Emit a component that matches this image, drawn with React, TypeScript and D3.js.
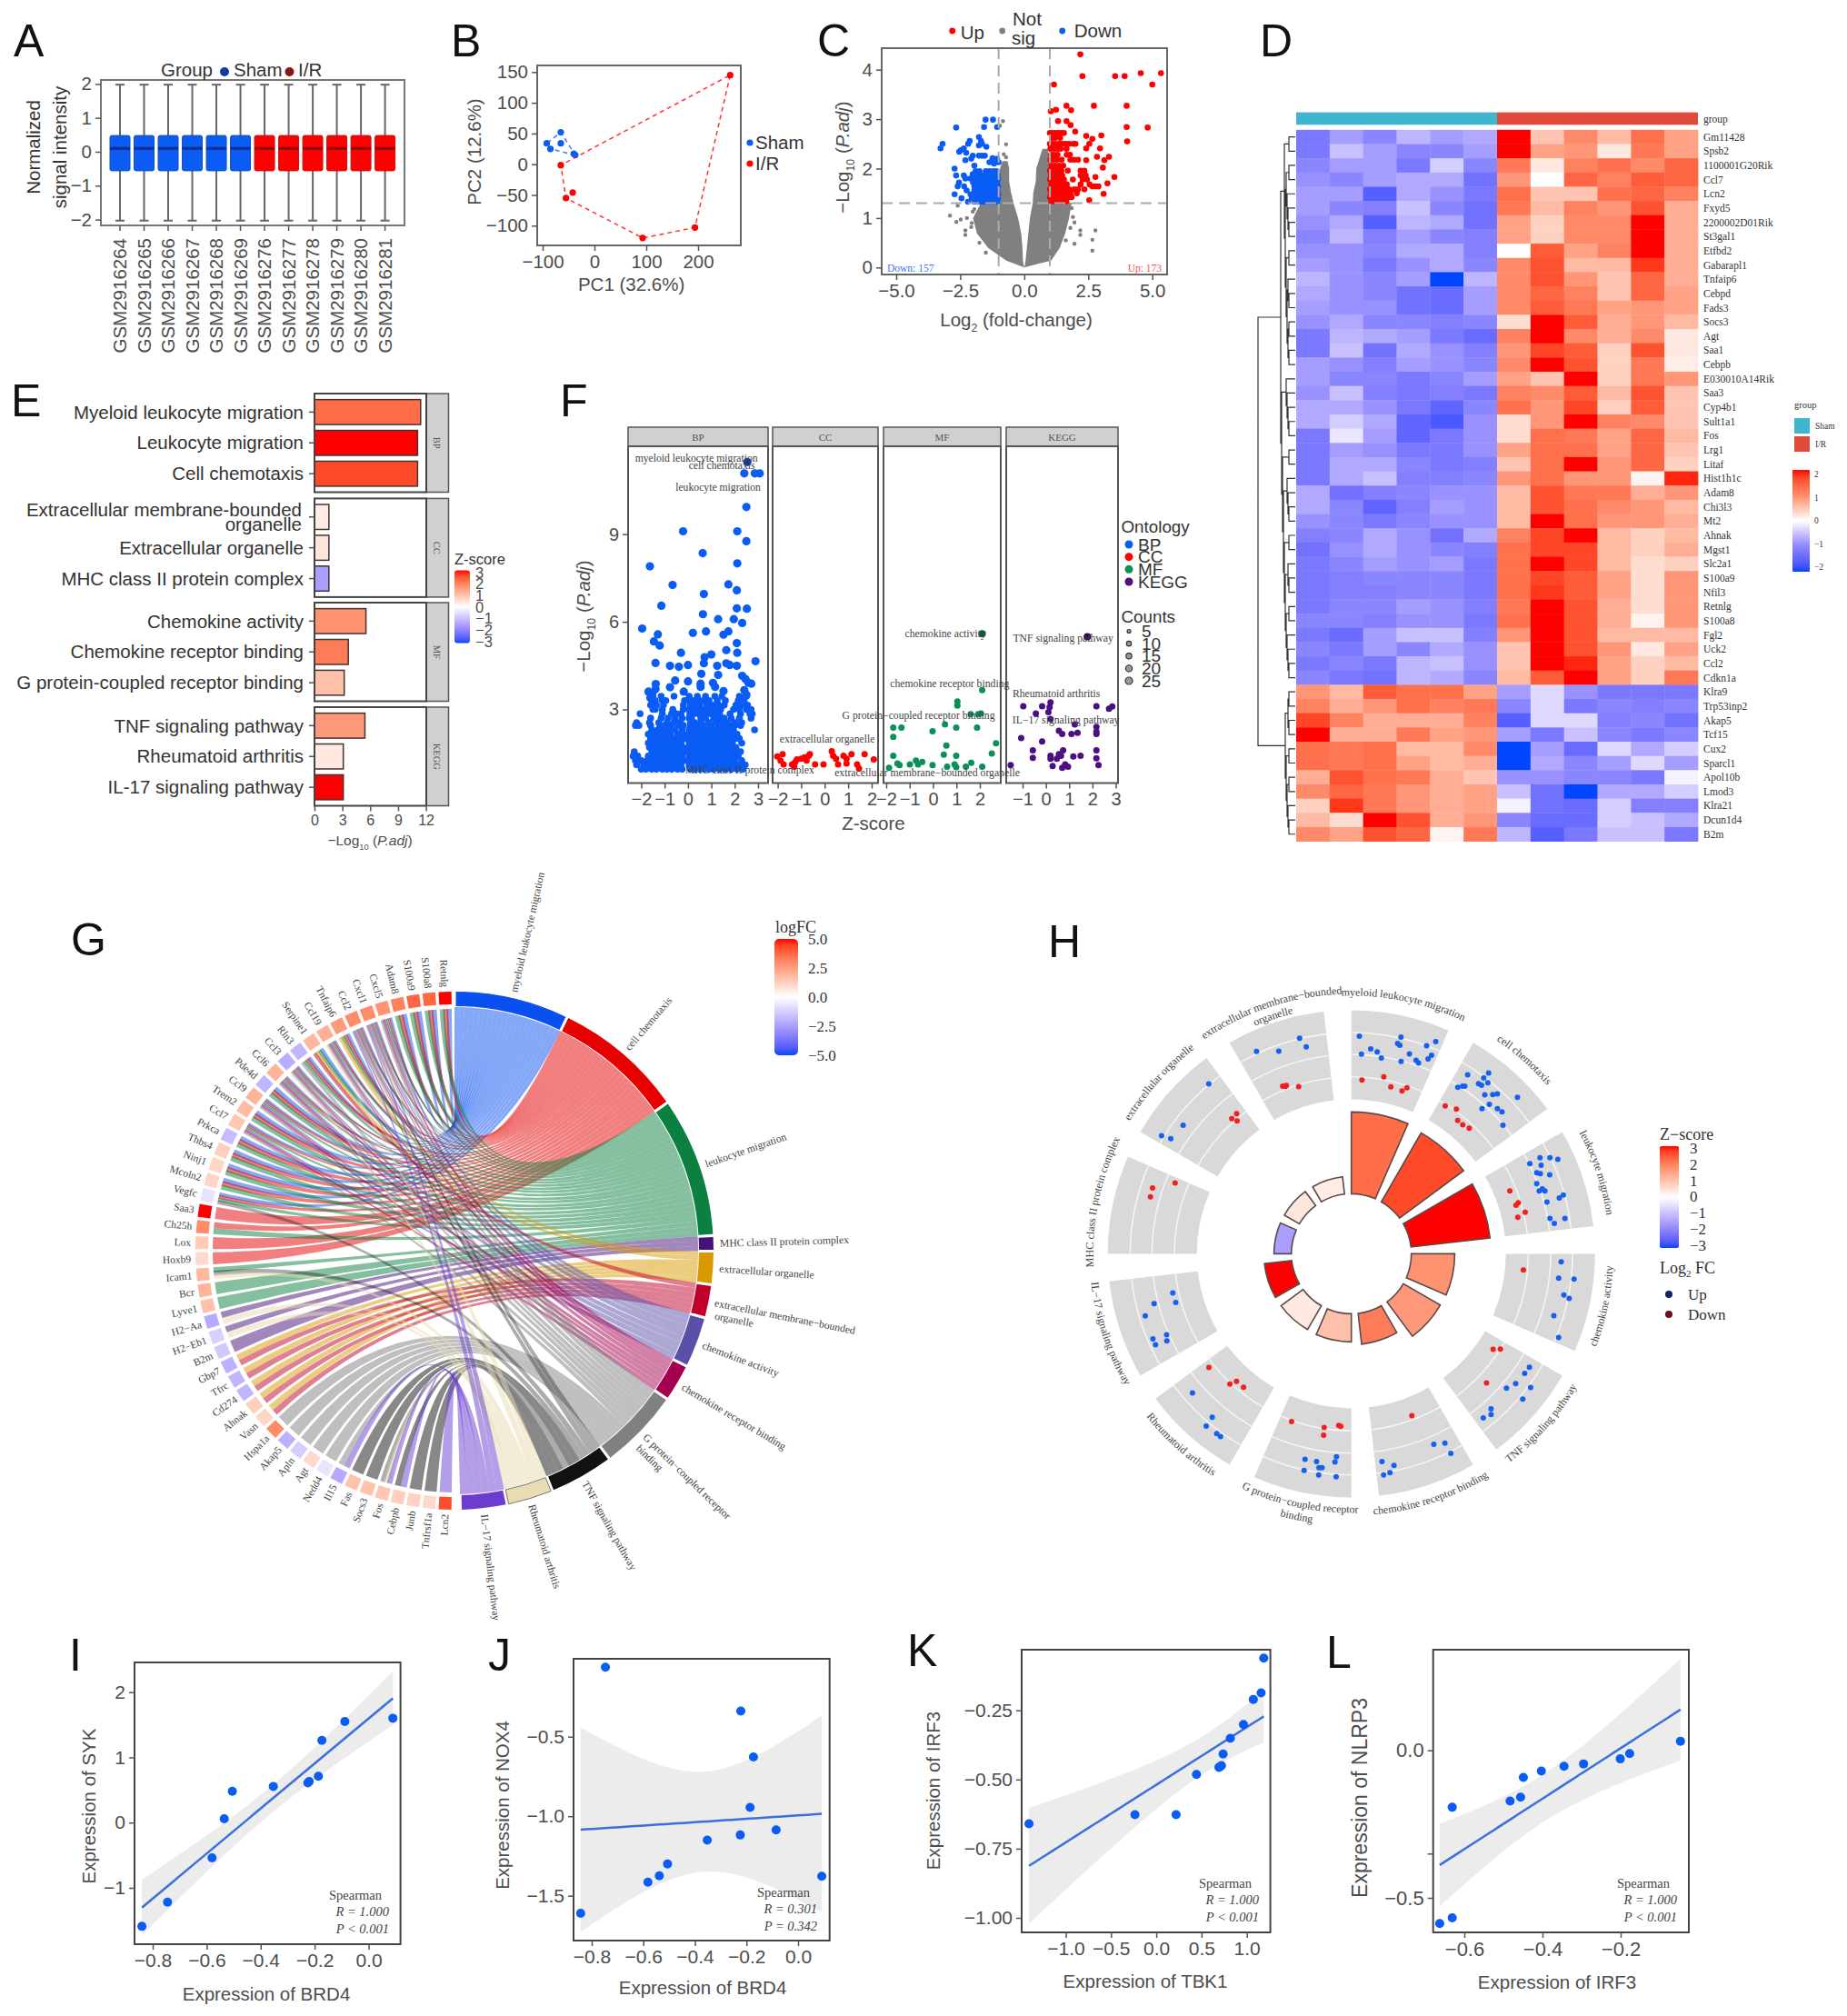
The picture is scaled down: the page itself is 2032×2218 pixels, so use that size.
// @ts-nocheck
import { useEffect, useRef } from "react"
import * as d3 from "d3"

const SANS = "Liberation Sans, Arial, sans-serif"
const SERIF = "Liberation Serif, Times New Roman, serif"
const INK = "#333333"
const TICK = "#4d4d4d"
const BLUE = "#0a5cf5"
const RED = "#ff0000"

// A: boxplots
const samples = ["GSM2916264", "GSM2916265", "GSM2916266", "GSM2916267", "GSM2916268", "GSM2916269", "GSM2916276", "GSM2916277", "GSM2916278", "GSM2916279", "GSM2916280", "GSM2916281"]
const boxLow = [-2.03, -2.03, -2.03, -2.03, -2.03, -2.03, -2.03, -2.03, -2.03, -2.03, -2.03, -2.03]
const boxQ1 = [-0.56, -0.56, -0.56, -0.56, -0.56, -0.56, -0.56, -0.56, -0.56, -0.56, -0.56, -0.56]
const boxMedian = [0.1, 0.1, 0.1, 0.1, 0.1, 0.1, 0.1, 0.1, 0.1, 0.1, 0.1, 0.1]
const boxQ3 = [0.48, 0.48, 0.48, 0.48, 0.48, 0.48, 0.48, 0.48, 0.48, 0.48, 0.48, 0.48]
const boxHigh = [1.98, 1.98, 1.98, 1.98, 1.98, 1.98, 1.98, 1.98, 1.98, 1.98, 1.98, 1.98]

// B: PCA
const pcaSham = [[-92, 34], [-65, 52], [-65, 34], [-85, 25], [-40, 17], [-37, 15]]
const pcaIR = [[262, 145], [-65, -1.5], [-42, -46], [-55, -55], [93, -120], [194, -103]]

// C: volcano
const volcanoLeft = [[0, 0, 0], [0.07, -0.35, -0.03], [0.14, -0.7, -0.05], [0.39, -1.4, -0.07], [0.69, -1.85, -0.12], [1, -2.0, -0.24], [1.3, -1.7, -0.42], [1.4, -1.2, -0.46], [1.5, -1.0, -0.51], [1.74, -1.0, -0.59], [2, -0.95, -0.59], [2.15, -0.85, -0.65]]
const volcanoRight = [[0, 0, 0], [0.07, 0.03, 0.5], [0.14, 0.05, 1.05], [0.39, 0.1, 1.38], [0.69, 0.16, 1.6], [1, 0.22, 1.75], [1.3, 0.33, 1.85], [1.4, 0.34, 1.4], [1.5, 0.35, 1.0], [1.74, 0.45, 1.0], [2, 0.47, 1.0], [2.2, 0.59, 1.0], [2.4, 0.71, 0.9]]
const volcanoGrey = [[-2.9, 1.05], [-2.65, 0.92], [-2.3, 0.75], [-2.3, 0.66], [-2.6, 1.25], [-2.48, 0.97], [-2.24, 1.0], [-2.07, 0.82], [-2.01, 1.13], [1.96, 0.48], [2.66, 0.56], [2.66, 0.34], [2.78, 0.75], [2.19, 0.75], [2.19, 0.66], [1.96, 0.91], [-0.95, 2.87], [-0.83, 2.96], [-0.71, 2.49], [-0.8, 2.29], [-0.71, 2.23], [-2.05, 0.9], [-1.95, 1.18], [1.85, 1.2], [1.9, 1.02], [1.8, 0.8], [1.62, 0.55], [-1.75, 0.5], [-1.5, 0.3]]
const volcanoBlueTop = [[-3.27, 2.41], [-3.19, 2.5], [-2.66, 2.83], [-1.51, 2.99], [-1.22, 2.99], [-1.57, 2.84], [-1.06, 2.84], [-1.77, 2.64], [-2.13, 2.56], [-1.69, 2.56], [-2.19, 2.5], [-1.65, 2.5], [-1.77, 2.47], [-1.48, 2.44], [-2.48, 2.37], [-2.36, 2.41], [-2.54, 2.34], [-2.27, 2.32], [-2.3, 2.17], [-2.01, 2.26], [-2.07, 2.2], [-1.77, 2.26], [-1.65, 2.26], [-1.54, 2.26], [-1.24, 2.21], [-1.06, 2.2], [-1, 2.13], [-1.36, 2.13], [-1.18, 2.1], [-1.95, 2.06], [-2.72, 2], [-2.66, 1.86], [-2.36, 1.86], [-2.01, 1.89]]
const volcanoBlueRows = [
  [1.95, [-1.9, -1.75, -1.5, -1.35, -1.2, -1.08]],
  [1.87, [-2.0, -1.85, -1.7, -1.55, -1.42, -1.3, -1.15, -1.04]],
  [1.8, [-2.3, -2.1, -1.9, -1.78, -1.62, -1.5, -1.38, -1.25, -1.1, -1.02]],
  [1.72, [-2.55, -2.0, -1.85, -1.7, -1.58, -1.46, -1.32, -1.2, -1.06]],
  [1.64, [-2.6, -2.35, -1.95, -1.8, -1.65, -1.52, -1.4, -1.28, -1.14, -1.02]],
  [1.56, [-2.25, -1.95, -1.82, -1.7, -1.56, -1.44, -1.3, -1.18, -1.05]],
  [1.48, [-2.72, -2.1, -1.88, -1.75, -1.6, -1.48, -1.36, -1.24, -1.1, -1.01]],
  [1.4, [-2.45, -2.05, -1.9, -1.78, -1.64, -1.52, -1.4, -1.26, -1.14, -1.03]],
  [1.33, [-2.2, -1.95, -1.82, -1.68, -1.55, -1.42, -1.3, -1.18, -1.06]],
]
const volcanoRedTop = [[2.19, 4.31], [2.27, 3.87], [1.16, 3.7], [3.55, 3.87], [3.92, 3.87], [4.55, 3.93], [5.34, 3.93], [5, 3.7], [2.72, 3.27], [1.65, 3.27], [1.83, 3.18], [4, 3.27], [1.04, 3.16], [1.24, 3.19], [1.32, 2.96], [1.65, 2.96], [1.81, 2.88], [4, 2.84], [4.82, 2.83], [4.02, 2.55], [1.99, 2.75], [2.42, 2.66], [3.01, 2.67], [2.66, 2.6], [2.54, 2.5], [2.42, 2.41], [2.96, 2.41], [2.84, 2.24], [3.31, 2.24], [3.13, 2.17], [2.42, 2.17], [3.07, 2.02], [3.52, 1.83], [2.78, 1.83], [3.25, 1.7], [2.78, 1.64], [3.1, 1.49], [2.54, 1.36], [2.9, 1.64], [2.66, 1.64]]
const volcanoRedRows = [
  [2.72, [1.0, 1.1, 1.22, 1.32, 1.45, 1.55]],
  [2.62, [1.08, 1.2, 1.4]],
  [2.5, [1.0, 1.12, 1.24, 1.38, 1.5, 1.62, 1.75, 1.92, 2.0]],
  [2.4, [1.02, 1.16, 1.3, 1.42, 1.65]],
  [2.28, [1.05, 1.15, 1.3, 1.66, 1.78]],
  [2.18, [1.02, 1.14, 1.28, 1.46, 1.8, 1.95, 2.1]],
  [2.06, [1.06, 1.2, 1.35, 1.52]],
  [1.96, [1.0, 1.15, 1.3, 1.45, 1.7, 2.2, 2.35]],
  [1.86, [1.04, 1.18, 1.32, 1.48, 2.2, 2.4]],
  [1.78, [1.0, 1.12, 1.26, 1.4, 1.55, 1.9, 2.28, 2.45]],
  [1.68, [1.06, 1.2, 1.34, 1.5, 1.66, 2.2, 2.55]],
  [1.58, [1.0, 1.14, 1.28, 1.42, 1.6, 1.75, 1.95, 2.1, 2.35]],
  [1.5, [1.04, 1.18, 1.32, 1.46, 1.6, 1.8, 2.05]],
  [1.42, [1.0, 1.12, 1.26, 1.4, 1.56, 1.72, 1.85]],
  [1.34, [1.06, 1.2, 1.34, 1.48, 1.64]],
]

// D: heatmap
const heatGenes = ["Gm11428", "Spsb2", "1100001G20Rik", "Ccl7", "Lcn2", "Fxyd5", "2200002D01Rik", "St3gal1", "Etfbd2", "Gabarapl1", "Tnfaip6", "Cebpd", "Fads3", "Socs3", "Agt", "Saa1", "Cebpb", "E030010A14Rik", "Saa3", "Cyp4b1", "Sult1a1", "Fos", "Lrg1", "Litaf", "Hist1h1c", "Adam8", "Chi3l3", "Mt2", "Ahnak", "Mgst1", "Slc2a1", "S100a9", "Nfil3", "Retnlg", "S100a8", "Fgl2", "Uck2", "Ccl2", "Cdkn1a", "Klra9", "Trp53inp2", "Akap5", "Tcf15", "Cux2", "Sparcl1", "Apol10b", "Lmod3", "Klra21", "Dcun1d4", "B2m"]
const heatValues = [
  [-1.2, -0.8, -1.0, -0.6, -0.8, -0.7, 2.0, 0.5, 1.0, 0.6, 1.3, 0.8],
  [-1.2, -0.5, -0.8, -1.0, -1.0, -0.8, 2.0, 0.8, 0.9, 0.2, 1.2, 0.8],
  [-1.0, -0.8, -0.8, -1.2, -0.4, -1.0, 1.2, 0.2, 1.1, 1.3, 1.0, 1.4],
  [-0.9, -1.0, -0.8, -0.7, -0.7, -1.3, 0.9, 0.0, 1.4, 1.1, 1.5, 1.4],
  [-0.8, -0.8, -1.6, -0.7, -0.9, -1.2, 1.3, 0.5, 0.5, 1.3, 1.4, 1.1],
  [-0.8, -1.0, -1.1, -0.5, -1.0, -1.3, 1.2, 0.6, 1.1, 0.9, 1.6, 0.7],
  [-0.9, -0.7, -1.6, -0.6, -0.7, -1.3, 0.8, 0.4, 1.0, 1.0, 2.0, 0.7],
  [-1.0, -0.6, -1.1, -0.8, -1.0, -1.1, 0.8, 0.4, 1.0, 1.0, 2.0, 0.7],
  [-0.9, -0.9, -1.0, -0.7, -0.7, -1.1, 0.0, 1.5, 0.8, 1.1, 2.0, 0.7],
  [-0.8, -0.9, -1.2, -0.9, -0.7, -1.0, 1.0, 1.6, 0.6, 0.6, 1.8, 0.7],
  [-0.6, -0.9, -1.0, -0.8, -2.0, -0.6, 1.0, 1.6, 0.9, 0.5, 1.4, 0.7],
  [-0.7, -0.9, -1.0, -1.3, -1.4, -0.8, 1.0, 1.4, 1.1, 0.5, 1.4, 0.8],
  [-0.8, -0.9, -0.9, -1.3, -1.4, -0.8, 1.0, 1.5, 1.2, 0.8, 0.9, 0.8],
  [-0.9, -0.7, -1.0, -1.0, -1.1, -1.0, 0.3, 2.0, 1.5, 0.7, 0.9, 0.6],
  [-1.2, -0.6, -0.7, -0.8, -1.2, -1.4, 1.1, 2.0, 1.0, 0.7, 1.0, 0.2],
  [-1.2, -0.5, -1.3, -0.7, -0.9, -1.1, 0.9, 1.7, 1.5, 0.4, 1.6, 0.2],
  [-0.8, -0.9, -1.1, -0.8, -0.9, -1.0, 1.0, 2.0, 1.6, 0.4, 1.2, 0.15],
  [-0.8, -1.0, -1.0, -1.2, -1.0, -0.8, 0.8, 0.5, 2.0, 0.4, 1.2, 0.9],
  [-0.9, -0.5, -1.1, -1.2, -1.1, -1.2, 1.1, 1.0, 1.5, 0.6, 1.6, 0.5],
  [-0.7, -0.7, -0.9, -1.2, -1.5, -1.0, 1.3, 0.9, 1.7, 0.4, 1.5, 0.5],
  [-0.7, -0.4, -0.7, -1.5, -1.7, -0.9, 0.3, 0.9, 2.0, 1.1, 1.0, 0.5],
  [-1.2, -0.2, -0.8, -1.5, -1.2, -0.9, 0.3, 1.3, 1.2, 0.8, 1.4, 0.6],
  [-1.2, -0.8, -0.9, -1.2, -1.2, -0.9, 0.8, 1.3, 1.3, 0.8, 1.4, 0.5],
  [-1.2, -0.7, -0.7, -1.0, -1.2, -1.1, 0.5, 1.3, 2.0, 0.9, 1.4, 0.4],
  [-1.2, -0.7, -0.5, -1.1, -1.1, -1.0, 0.9, 1.3, 0.9, 0.9, 0.1, 1.9],
  [-0.7, -1.3, -1.1, -1.0, -0.9, -0.9, 0.6, 1.6, 1.2, 1.2, 0.7, 0.9],
  [-0.7, -1.0, -1.5, -1.1, -0.8, -0.9, 0.6, 1.6, 1.3, 1.0, 0.9, 0.6],
  [-0.9, -1.0, -1.2, -1.0, -0.9, -0.9, 0.6, 2.0, 1.3, 0.9, 0.9, 0.7],
  [-1.1, -1.0, -0.7, -0.9, -1.3, -0.7, 1.1, 1.7, 2.0, 0.6, 0.4, 0.6],
  [-1.3, -0.9, -0.7, -0.9, -1.0, -1.1, 1.3, 1.7, 1.7, 0.6, 0.4, 0.7],
  [-1.2, -1.0, -0.8, -0.9, -0.8, -1.2, 1.3, 2.0, 1.7, 0.6, 0.3, 0.4],
  [-1.2, -1.1, -1.0, -1.0, -1.0, -1.2, 1.3, 1.7, 1.5, 0.8, 0.3, 0.9],
  [-1.2, -1.1, -1.1, -1.0, -1.0, -1.2, 1.3, 1.8, 1.5, 0.8, 0.3, 0.9],
  [-1.2, -1.0, -1.0, -0.8, -0.9, -1.1, 1.2, 2.0, 1.6, 0.7, 0.3, 0.9],
  [-1.0, -1.0, -1.1, -0.9, -0.9, -1.2, 1.3, 2.0, 1.6, 0.7, 0.1, 0.9],
  [-1.2, -1.4, -0.8, -0.5, -0.5, -1.1, 0.9, 2.0, 1.6, 0.6, 0.6, 0.6],
  [-1.0, -1.2, -0.8, -1.0, -0.7, -0.9, 0.5, 2.0, 1.6, 0.9, 0.2, 0.8],
  [-1.2, -1.0, -1.2, -0.6, -0.5, -0.9, 0.5, 2.0, 1.9, 0.8, 0.4, 0.6],
  [-1.0, -1.2, -1.3, -0.6, -0.7, -1.0, 0.6, 1.5, 2.0, 0.8, 0.4, 1.2],
  [0.9, 0.6, 1.5, 1.3, 1.3, 0.8, -0.8, -0.3, -0.9, -1.2, -1.2, -1.2],
  [1.1, 0.7, 0.9, 1.3, 1.1, 1.2, -1.0, -0.3, -1.2, -1.0, -1.1, -1.0],
  [1.7, 1.1, 0.7, 0.7, 0.7, 1.1, -1.6, -0.3, -0.3, -1.1, -1.0, -1.3],
  [2.0, 0.7, 0.7, 1.2, 0.8, 0.9, -0.8, -1.2, -0.5, -1.0, -1.2, -1.0],
  [1.3, 1.2, 1.3, 0.6, 0.6, 1.0, -2.0, -0.8, -1.4, -0.3, -0.7, -0.4],
  [1.3, 1.2, 1.3, 0.8, 0.6, 0.7, -2.0, -0.7, -1.0, -0.8, -0.3, -0.8],
  [0.7, 1.6, 1.3, 1.2, 0.7, 0.5, -0.9, -0.9, -1.0, -1.0, -1.2, -0.1],
  [1.0, 1.4, 1.2, 0.9, 0.7, 0.8, -0.5, -1.3, -2.0, -0.7, -0.7, -0.4],
  [0.4, 1.8, 1.2, 0.9, 0.7, 0.8, -0.1, -1.3, -1.4, -0.4, -1.1, -1.1],
  [0.6, 0.3, 2.0, 1.6, 0.7, 0.9, -1.0, -1.4, -1.4, -0.4, -0.5, -0.7],
  [1.0, 0.8, 1.6, 1.4, 0.1, 1.2, -0.6, -1.6, -1.2, -0.5, -0.5, -1.2],
]
const dendroUp = [[[0, 1], [[[2, 3], [4, [5, [6, 7]]]], [[8, 9], [[10, [11, 12]], [[13, 14], [15, 16]]]]]], [[17, [18, [19, [20, 21]]]], [[22, 23], [[24, [25, [26, 27]]], [[28, 29], [[30, [31, 32]], [[33, 34], [35, [36, [37, 38]]]]]]]]]]
const dendroDown = [[[39, 40], [41, 42]], [[43, 44], [[45, 46], [47, [48, 49]]]]]

// Terms shared by E, G and H
const termNames = ["myeloid leukocyte migration", "cell chemotaxis", "leukocyte migration", "MHC class II protein complex", "extracellular organelle", "extracellular membrane−bounded organelle", "chemokine activity", "chemokine receptor binding", "G protein−coupled receptor binding", "TNF signaling pathway", "Rheumatoid arthritis", "IL−17 signaling pathway"]
const termPadj = [11.43, 11.1, 11.1, 1.55, 1.55, 1.55, 5.54, 3.64, 3.2, 5.43, 3.1, 3.1]
const termZ = [2.2, 2.6, 3.0, -1.5, 0.4, 0.3, 1.7, 2.0, 1.0, 1.6, 0.35, 3.0]
const termColors = ["#0a50f0", "#e60000", "#0b8040", "#48107a", "#d99a00", "#c0002a", "#5a50a8", "#a5004f", "#808080", "#111111", "#e8dcb0", "#6a3dd0"]
const termWeights = [25.3, 29, 31, 3, 7, 7, 11, 8, 18, 14, 10, 10]

// E: bars
const barFacets = [
  { name: "BP", rows: [[0, ["Myeloid leukocyte migration"]], [2, ["Leukocyte migration"]], [1, ["Cell chemotaxis"]]] },
  { name: "CC", rows: [[5, ["Extracellular membrane-bounded", "organelle"]], [4, ["Extracellular organelle"]], [3, ["MHC class II protein complex"]]] },
  { name: "MF", rows: [[6, ["Chemokine activity"]], [7, ["Chemokine receptor binding"]], [8, ["G protein-coupled receptor binding"]]] },
  { name: "KEGG", rows: [[9, ["TNF signaling pathway"]], [10, ["Rheumatoid arthritis"]], [11, ["IL-17 signaling pathway"]]] },
]

// F: bubble facets
const bubbleBpTop = [[2.54, 11.47], [2.41, 11.08], [2.86, 11.08], [3.07, 11.08], [2.5, 9.93], [2.11, 9.1], [-0.21, 9.1], [2.5, 8.76], [0.63, 8.35], [2.11, 8.0], [-1.63, 7.9], [-0.66, 7.26], [1.73, 7.28], [2.09, 7.08], [0.68, 6.95], [-1.14, 6.55], [2.09, 6.46], [2.52, 6.45], [0.64, 6.26], [1.29, 6.09], [1.96, 6.09], [2.32, 5.96], [-1.96, 5.77], [-1.29, 5.57], [0.21, 5.62], [0.77, 5.67], [1.73, 5.67], [1.52, 5.56], [-1.46, 5.33], [-1.21, 5.19], [2.09, 5.27], [-0.3, 4.94], [1.64, 5.03], [2.11, 4.94], [0.71, 4.79], [1, 4.88], [-1.39, 4.59], [2.89, 4.65], [0.68, 4.58], [-0.77, 4.49], [-0.39, 4.46], [0, 4.52], [1.25, 4.49], [1.64, 4.58], [1.79, 4.52], [2.09, 4.49], [0.57, 4.22], [1.29, 4.18], [2.32, 4.15], [-0.55, 3.99], [0, 3.96], [2.46, 4.04], [2.59, 3.91], [-1.38, 3.87], [0.54, 3.88], [1.07, 3.91], [2.71, 3.88], [-0.77, 3.76], [-1.39, 3.7], [0.54, 3.77], [1.16, 3.77], [2.41, 3.66], [-1.69, 3.61], [-1.52, 3.56], [-0.18, 3.61], [1.52, 3.63], [2.5, 3.5], [-1.61, 3.4]]
const bubbleBpRows = [
  [3.45, [-1.6, -1.5, -1.15, -0.6, 0.05, 0.4, 0.75, 1.15, 1.45, 2.2, 2.5]],
  [3.3, [-1.55, -1.4, -1.1, -0.95, -0.15, 0.05, 0.25, 0.45, 0.65, 0.9, 1.25, 1.6, 2.15, 2.4]],
  [3.15, [-1.6, -1.35, -1.05, -0.2, 0.1, 0.3, 0.5, 0.8, 1.05, 1.3, 1.55, 2.05, 2.3, 2.55]],
  [3.0, [-1.5, -1.4, -1.1, -0.65, -0.2, 0.05, 0.2, 0.4, 0.6, 0.85, 1.0, 1.2, 1.4, 1.95, 2.2, 2.5, 2.7]],
  [2.85, [-2.05, -1.1, -0.7, -0.5, -0.3, 0.08, 0.25, 0.45, 0.7, 0.95, 1.15, 1.35, 1.8, 2.25, 2.65, 2.75]],
  [2.7, [-1.6, -1.15, -0.85, -0.55, -0.25, 0.05, 0.15, 0.55, 0.75, 1.1, 1.3, 1.55, 1.85, 2.2, 2.7]],
  [2.55, [-2.2, -1.65, -1.25, -0.9, -0.6, -0.35, 0.1, 0.3, 0.55, 0.9, 1.2, 1.45, 1.7, 2.0, 2.3]],
  [2.45, [-2.25, -2.1, -1.6, -1.2, -1.0, -0.75, -0.45, -0.2, 0.1, 0.3, 0.45, 0.7, 1.0, 1.3, 1.55, 1.75, 2.0, 2.25]],
  [2.3, [-1.55, -1.3, -1.05, -0.8, -0.55, -0.25, 0.05, 0.3, 0.5, 0.65, 0.85, 1.1, 1.35, 1.5, 1.7, 1.95, 2.85]],
  [2.15, [-1.7, -1.45, -1.2, -0.95, -0.75, -0.45, -0.2, 0.05, 0.25, 0.4, 0.6, 0.8, 1.05, 1.25, 1.45, 1.65, 1.85, 2.1]],
  [2.0, [-1.6, -1.35, -1.1, -0.85, -0.6, -0.35, -0.15, 0.1, 0.3, 0.5, 0.7, 0.9, 1.15, 1.35, 1.55, 1.75, 2.0, 2.2]],
  [1.85, [-1.7, -1.45, -1.25, -1.0, -0.8, -0.55, -0.3, 0.05, 0.25, 0.45, 0.65, 0.85, 1.05, 1.25, 1.45, 1.7, 1.9, 2.3]],
  [1.7, [-1.65, -1.4, -1.15, -0.9, -0.7, -0.45, -0.2, 0.05, 0.2, 0.4, 0.6, 0.8, 1.0, 1.2, 1.4, 1.6, 1.85, 2.05]],
  [1.55, [-2.3, -1.55, -1.3, -1.05, -0.85, -0.6, -0.35, -0.15, 0.1, 0.3, 0.5, 0.7, 0.9, 1.1, 1.3, 1.5, 1.75, 2.0, 2.25]],
  [1.4, [-2.35, -2.15, -1.7, -1.45, -1.2, -1, -0.75, -0.5, -0.25, 0.05, 0.25, 0.45, 0.65, 0.85, 1.05, 1.25, 1.45, 1.7, 1.9, 2.15]],
  [1.25, [-2.25, -2.0, -1.75, -1.5, -1.3, -1.05, -0.85, -0.6, -0.35, -0.15, 0.1, 0.3, 0.5, 0.7, 0.9, 1.1, 1.3, 1.55, 1.8, 2.0, 2.3]],
  [1.1, [-2.2, -1.9, -1.65, -1.4, -1.2, -1, -0.75, -0.5, -0.3, 0.05, 0.25, 0.45, 0.65, 0.85, 1.05, 1.25, 1.5, 1.75, 1.95, 2.2, 2.45]],
  [0.95, [-2, -1.8, -1.55, -1.35, -1.1, -0.9, -0.7, -0.45, -0.25, 0.1, 0.3, 0.5, 0.7, 0.9, 1.1, 1.35, 1.6, 1.85, 2.1, 2.35]],
]
const bubbleCC = [[-2.02, 1.39], [-1.79, 1.47], [-1.88, 1.25], [-1.75, 1.12], [-1.39, 1.12], [-1.25, 1.2], [-1.18, 1.29], [-1, 1.31], [-0.86, 1.36], [-0.68, 1.41], [-0.63, 1.47], [-0.77, 1.25], [-0.41, 1.12], [-0.05, 1.12], [0.3, 1.57], [0.36, 1.41], [0.48, 1.31], [0.57, 1.12], [0.8, 1.41], [0.93, 1.31], [1.14, 1.47], [0.93, 1.15], [1.38, 1.12], [1.46, 0.98], [1.7, 1.47], [2.09, 1.29], [-1.3, 1.04]]
const bubbleMF = [[2.1, 5.59], [2.1, 3.66], [1.04, 3.27], [1.04, 3.13], [1.61, 2.84], [1.93, 2.84], [2.05, 2.86], [0.51, 2.49], [0.99, 2.38], [1.88, 2.38], [-1.7, 2.38], [-1.35, 2.38], [-0.02, 2.25], [-1.7, 2.06], [0.57, 1.76], [2.69, 1.84], [2.51, 1.49], [0.46, 1.45], [0.99, 1.41], [-1.7, 1.41], [-1.52, 1.15], [-1.43, 1.09], [-1.88, 1], [-0.99, 1.12], [-0.73, 1.25], [-0.64, 1.12], [-0.46, 1.2], [-0.02, 1.09], [0.6, 1.04], [0.92, 1.12], [0.99, 1.02], [1.4, 1.04], [1.63, 1.17], [2.1, 1.04]]
const bubbleKEGG = [[1.78, 5.49], [-0.97, 3.11], [-0.16, 3.11], [0.2, 3.24], [0.16, 3.08], [-0.43, 2.86], [0.11, 2.91], [2.17, 3.11], [2.71, 3.02], [2.85, 3.1], [0.2, 2.67], [1.24, 2.49], [2.17, 2.4], [2.17, 2.24], [2.17, 2.16], [0.56, 2.27], [0.7, 2.16], [1.1, 2.16], [1.36, 2.2], [-1.06, 2.02], [-0.16, 1.9], [-0.56, 1.6], [-0.56, 1.34], [0.2, 1.41], [0.74, 1.6], [0.56, 1.47], [0.2, 1.31], [0.47, 1.31], [0.65, 1.41], [1.18, 1.39], [1.49, 1.41], [2.17, 1.6], [2.17, 1.33], [2.26, 1.09], [-1.51, 1.09], [0.29, 1.06], [0.7, 1], [0.95, 1.04], [0.83, 1.12]]
const bubbleColors = [BLUE, RED, "#0a9058", "#4b0f82"]
const bubbleDark = ["#0a3a9e", RED, "#0a5c3c", "#2c0a50"]
const countValues = [5, 10, 15, 20, 25]
const bubbleLabels = [
  [0, "myeloid leukocyte migration", 0.36, 11.6], [0, "cell chemotaxis", 1.45, 11.36], [0, "leukocyte migration", 1.29, 10.62], [0, "MHC class II protein complex", 2.64, 0.93],
  [1, "extracellular organelle", 0.11, 2.0], [1, "extracellular membrane−bounded organelle", 4.36, 0.85],
  [2, "chemokine activity", 0.53, 5.59], [2, "chemokine receptor binding", 0.71, 3.88], [2, "G protein−coupled receptor binding", -0.62, 2.79],
  [3, "TNF signaling pathway", 0.74, 5.45], [3, "Rheumatoid arthritis", 0.45, 3.56], [3, "IL−17 signaling pathway", 0.86, 2.65],
]

// G: chord
const geneNames = ["Retnlg", "S100a8", "S100a9", "Adam8", "Cxcl5", "Cxcl1", "Ccl2", "Tnfaip6", "Ccl19", "Serpine1", "Rln3", "Ccl3", "Ccl6", "Pde4d", "Ccl9", "Trem2", "Ccl7", "Prkca", "Thbs4", "Ninj1", "Mcoln2", "Vegfc", "Saa3", "Ch25h", "Lox", "Hoxb9", "Icam1", "Bcr", "Lyve1", "H2−Aa", "H2−Eb1", "B2m", "Gbp7", "Tfrc", "Cd274", "Ahnak", "Vasn", "Hspa1a", "Akap5", "Apln", "Agt", "Nedd4", "Il15", "Fas", "Socs3", "Fos", "Cebpb", "Junb", "Tnfrsf1a", "Lcn2"]
const geneFc = [5, 3.8, 3.8, 3.2, 2.8, 3, 3, 2.6, 2.1, 1.9, -1.9, -2.1, 2, -1.9, 2, 1.8, 1.5, -1.7, 1.3, 1.1, 1.1, -0.7, 5, 3, 1.4, 1, 1.9, 2, 1.7, -2.2, -1.2, -1.4, -2, -1.9, -1.9, 1.3, 1.1, 3, -2, -1.3, 1, -0.7, -2.2, 1.6, 1.6, 1.5, 1.3, 1.2, 1, 4.3]
const geneTerms = [[0, 1, 2], [0, 1, 2], [0, 1, 2], [0, 1, 2], [0, 1, 2, 6, 7, 8], [0, 1, 2, 6, 7, 8, 9, 11], [0, 1, 2, 6, 7, 8, 9, 11], [0, 1, 2, 4], [0, 1, 2, 6, 7, 8, 10], [0, 2, 4, 5], [0, 1, 2, 8], [0, 1, 2, 6, 7, 8, 10], [0, 1, 2, 6, 7, 8], [0, 1, 2], [0, 1, 2, 6, 7, 8], [0, 1, 2], [0, 1, 2, 6, 7, 8], [0, 1, 2], [0, 1, 2], [0, 1, 2], [0, 1, 2], [0, 1, 2, 9], [1], [1, 2], [1], [1], [2, 9, 10], [2], [2], [3, 10], [3, 10], [3], [4, 5], [4, 5], [4, 5], [4, 5], [4, 5], [8], [8], [8], [8], [8], [8, 11], [9], [9], [9, 10, 11], [9, 11], [9], [9], [11]]

// H: circular plot, sectors run clockwise from the top
const circleOrder = [0, 1, 2, 6, 9, 7, 8, 10, 11, 3, 4, 5]
const circleLines = [["myeloid leukocyte migration"], ["cell chemotaxis"], ["leukocyte migration"], ["chemokine activity"], ["TNF signaling pathway"], ["chemokine receptor binding"], ["G protein−coupled receptor", "binding"], ["Rheumatoid arthritis"], ["IL−17 signaling pathway"], ["MHC class II protein complex"], ["extracellular organelle"], ["extracellular membrane−bounded", "organelle"]]
const circleUp = [
  [[2.1, 2.5], [12.9, 2.9], [12.4, 2.3], [13.1, 2.2], [21.7, 3.4], [19.9, 2.8], [2.9, 1.0], [5.4, 1.5], [7.3, 1.3], [8.7, 0.85], [14.5, 0.9], [16.2, 1.7], [18.5, 1.35], [19.4, 1.2], [21.5, 1.8], [22, 2.2]],
  [[3, 2.15], [7.2, 3.3], [7, 2.7], [8.6, 2.6], [6.8, 2.05], [7.7, 2.1], [2.6, 0.8], [3.6, 1.1], [4.1, 1.2], [10, 1.65], [11.6, 2.1], [12.4, 2.4], [16.7, 3.4], [12, 0.6], [12.7, 1.3], [15.2, 1.5], [16.7, 1.6], [19.7, 0.9]],
  [[3.2, 1], [3, 2], [4.2, 2.75], [5.4, 3.3], [6.4, 1.2], [5, 1.8], [7, 1.45], [8.3, 2.15], [9.3, 0.85], [11.2, 1.15], [11.5, 0.85], [12, 1.3], [15, 2.3], [14.5, 2.7], [15.2, 1.2], [19.9, 1.15], [21.5, 1.45], [20.6, 2.4]],
  [[2.2, 1.85], [6.7, 1.75], [6.5, 3.05], [11, 2.4], [11.6, 2.9], [17, 2], [22, 3]],
  [[2.5, 1.95], [4.6, 1.9], [8.3, 1.8], [10.9, 1.45], [6.7, 3], [10.3, 3.1], [18, 1.75], [19, 2.1], [21.2, 1.9]],
  [[6.6, 1.65], [3.7, 1.95], [3.5, 2.95], [21.6, 1.85], [18.6, 2.35], [20, 2.9], [21.7, 3]],
  [[4.2, 1.3], [4.5, 1.75], [3.9, 3], [8.4, 3], [8.6, 2.4], [7.8, 2.35], [9.5, 1.9], [12.3, 2.85], [12.7, 1.9]],
  [[18.8, 1.95], [10.4, 2.25], [10.1, 3.15], [6.8, 3.1], [5.6, 3.1]],
  [[17.6, -0.45], [14.5, -0.5], [15.8, 1.3], [13.2, 2.3], [6.8, 2.35], [5.1, 2.35], [6.3, 1.15], [4.7, 1.35]],
  [],
  [[20, 2.85], [7.4, 2], [1.9, 3], [2.5, 2.2]],
  [[4.9, 3], [10.3, 2.3], [16.5, 2.85], [17.7, 2]],
]
const circleDown = [
  [[3.5, -1.2], [10.4, -0.7], [13.3, -1.4], [17.3, -1.5], [18.5, -1.1]],
  [[2.4, -1.1], [6, -0.8], [8.6, -1.5], [10.8, -1.5], [13.2, -1.35]],
  [[8.4, -1.5], [13, -1.15], [13.6, -1.4], [16.6, -0.8], [17.6, -1.5]],
  [[5.4, -1.3]],
  [[4, -1.45], [2.6, -0.95], [13.7, -0.1]],
  [[9.5, -1.3]],
  [[19.6, -0.85], [8.9, -1.05], [8.7, -0.4], [4.2, -1.35], [3.5, -1.3]],
  [[21.4, -0.5], [13, -0.85], [12, -1.4], [8.9, -1.4]],
  [],
  [[18.3, 1.8], [15.8, 1.75], [21.9, 0.15]],
  [[20.7, -0.6], [18.5, -0.65], [19.3, -1.1]],
  [[7.7, -0.6], [8.5, -0.7], [8.9, -0.65], [12.5, -1.1]],
]

// I-L: correlations
const scatterPanels = [
  { xName: "BRD4", yName: "SYK", points: [[-0.84, -1.59], [-0.745, -1.22], [-0.58, -0.54], [-0.535, 0.06], [-0.505, 0.48], [-0.353, 0.555], [-0.225, 0.61], [-0.22, 0.63], [-0.186, 0.71], [-0.173, 1.26], [-0.088, 1.55], [0.09, 1.6]], r: "R = 1.000", p: "P < 0.001" },
  { xName: "BRD4", yName: "NOX4", points: [[-0.843, -1.61], [-0.747, -0.063], [-0.582, -1.415], [-0.538, -1.375], [-0.506, -1.3], [-0.352, -1.15], [-0.224, -1.118], [-0.222, -0.339], [-0.186, -0.945], [-0.173, -0.627], [-0.085, -1.086], [0.092, -1.377]], r: "R = 0.301", p: "P = 0.342" },
  { xName: "TBK1", yName: "IRF3", points: [[-1.406, -0.66], [-0.236, -0.627], [0.219, -0.627], [0.444, -0.482], [0.692, -0.456], [0.703, -0.454], [0.72, -0.45], [0.738, -0.408], [0.818, -0.351], [0.963, -0.301], [1.072, -0.211], [1.158, -0.187], [1.187, -0.061]], r: "R = 1.000", p: "P < 0.001" },
  { xName: "IRF3", yName: "NLRP3", points: [[-0.663, -0.587], [-0.631, -0.568], [-0.631, -0.193], [-0.483, -0.172], [-0.456, -0.159], [-0.449, -0.092], [-0.403, -0.07], [-0.345, -0.054], [-0.295, -0.046], [-0.201, -0.029], [-0.177, -0.011], [-0.047, 0.031]], r: "R = 1.000", p: "P < 0.001" },
]

const zColor = d3.scaleLinear().domain([-3, 0, 3]).range(["#0046ff", "#ffffff", "#ff0000"]).interpolate(d3.interpolateLab)
const heatColor = d3.scaleLinear().domain([-2, -1, 0, 1, 2]).range(["#0046ff", "#8a86ff", "#ffffff", "#ff8a6a", "#ff0000"]).interpolate(d3.interpolateLab)
const fcColor = d3.scaleLinear().domain([-5, 0, 5]).range(["#0046ff", "#ffffff", "#ff0000"]).interpolate(d3.interpolateLab)
const rad = d => d * Math.PI / 180

function label(g, x, y, s, { size = 20.5, anchor = "start", fill = INK, font = SANS, rotate = 0, style = null } = {}) {
  return g.append("text")
    .attr("transform", `translate(${x},${y})` + (rotate ? ` rotate(${rotate})` : ""))
    .attr("dy", "0.35em")
    .attr("font-family", font)
    .attr("font-size", size)
    .attr("font-style", style)
    .attr("text-anchor", anchor)
    .attr("fill", fill)
    .text(s)
}

// parts: plain strings, or { low } for a subscript and { it } for italic
function richLabel(g, x, y, parts, { size = 20.5, anchor = "middle", fill = INK, rotate = 0 } = {}) {
  const t = g.append("text")
    .attr("transform", `translate(${x},${y})` + (rotate ? ` rotate(${rotate})` : ""))
    .attr("dy", "0.35em")
    .attr("font-family", SANS).attr("font-size", size).attr("text-anchor", anchor).attr("fill", fill)
  let wasLow = false
  parts.forEach(p => {
    const s = t.append("tspan")
    if (typeof p === "string") {
      s.text(p)
    } else if (p.low) {
      s.text(p.low).attr("font-size", size * 0.6).attr("dy", size * 0.3)
      wasLow = true
      return
    } else {
      s.attr("font-style", "italic").text(p.it)
    }
    if (wasLow) s.attr("dy", -size * 0.3)
    wasLow = false
  })
  return t
}
const logTitle = ["−Log", { low: "10" }, " (", { it: "P.adj" }, ")"]

function axis(g, orient, scale, pos, values, fmt, size = 20.5) {
  const ax = (orient === "left" ? d3.axisLeft(scale) : d3.axisBottom(scale)).tickValues(values).tickSize(6).tickPadding(4).tickFormat(fmt)
  const a = g.append("g").attr("transform", orient === "left" ? `translate(${pos},0)` : `translate(0,${pos})`).call(ax)
  a.select(".domain").remove()
  a.selectAll("text").attr("font-family", SANS).attr("font-size", size).attr("fill", TICK)
  a.selectAll("line").attr("stroke", "#555").attr("stroke-width", 1.5)
  return a
}

function frame(g, x0, y0, x1, y1, stroke = "#666", w = 2) {
  return g.append("rect").attr("x", x0).attr("y", y0).attr("width", x1 - x0).attr("height", y1 - y0)
    .attr("fill", "none").attr("stroke", stroke).attr("stroke-width", w)
}

function colorBar(svg, g, id, color, domain, x0, y0, w, h, r = 3) {
  const grad = svg.select("defs").append("linearGradient").attr("id", id).attr("x1", 0).attr("x2", 0).attr("y1", 0).attr("y2", 1)
  d3.range(0, 1.0001, 0.05).forEach(t => {
    grad.append("stop").attr("offset", t).attr("stop-color", color(domain[1] + (domain[0] - domain[1]) * t))
  })
  g.append("rect").attr("x", x0).attr("y", y0).attr("width", w).attr("height", h).attr("rx", r).attr("fill", `url(#${id})`)
}

function panelLetters(g) {
  const letters = [["A", 15, 62], ["B", 496, 62], ["C", 899, 62], ["D", 1386, 62], ["E", 12, 458], ["F", 616, 458], ["G", 78, 1051], ["H", 1153, 1053], ["I", 76, 1838], ["J", 537, 1838], ["K", 998, 1833], ["L", 1459, 1835]]
  letters.forEach(([s, x, y]) => {
    g.append("text").attr("x", x).attr("y", y).attr("font-family", SANS).attr("font-size", 50).attr("fill", "#111").text(s)
  })
}

function panelA(g) {
  const x = d3.scaleBand().domain(samples).range([118.75, 436.85]).paddingInner(0.17).paddingOuter(0.085)
  const y = d3.scaleLinear().domain([-2, 2]).range([241.6, 92.4])
  const bw = x.bandwidth()
  samples.forEach((s, i) => {
    const cx = x(s) + bw / 2
    const color = i < 6 ? BLUE : RED
    g.append("line").attr("x1", cx).attr("x2", cx).attr("y1", y(boxLow[i])).attr("y2", y(boxHigh[i])).attr("stroke", "#666").attr("stroke-width", 2)
    ;[boxLow[i], boxHigh[i]].forEach(v => g.append("line").attr("x1", cx - 5).attr("x2", cx + 5).attr("y1", y(v)).attr("y2", y(v)).attr("stroke", "#666").attr("stroke-width", 2))
    g.append("rect").attr("x", x(s)).attr("y", y(boxQ3[i])).attr("width", bw).attr("height", y(boxQ1[i]) - y(boxQ3[i])).attr("rx", 2).attr("fill", color).attr("stroke", i < 6 ? "#1450c0" : "#c81010")
    g.append("line").attr("x1", x(s)).attr("x2", x(s) + bw).attr("y1", y(boxMedian[i])).attr("y2", y(boxMedian[i])).attr("stroke", i < 6 ? "#0a2f8a" : "#8c0a0a").attr("stroke-width", 3)
  })
  frame(g, 111, 88, 445, 248, "#777")
  axis(g, "left", y, 111, [-2, -1, 0, 1, 2], d3.format("d"))
  const a = axis(g, "bottom", x, 248, samples, d => d)
  a.selectAll(".tick text").attr("transform", "rotate(-90)").attr("text-anchor", "end").attr("x", -14).attr("y", 0).attr("dy", "0.35em")
  label(g, 37, 162, "Normalized", { rotate: -90, anchor: "middle" })
  label(g, 66, 162, "signal intensity", { rotate: -90, anchor: "middle" })
  label(g, 177, 77, "Group")
  g.append("circle").attr("cx", 247).attr("cy", 79).attr("r", 5).attr("fill", "#0f3d9e")
  label(g, 257, 77, "Sham")
  g.append("circle").attr("cx", 318.5).attr("cy", 79).attr("r", 5).attr("fill", "#8c1414")
  label(g, 328, 77, "I/R")
}

function panelB(g) {
  const x = d3.scaleLinear().domain([-100, 200]).range([597, 768])
  const y = d3.scaleLinear().domain([-100, 150]).range([248.3, 79.3])
  const line = d3.line().x(d => x(d[0])).y(d => y(d[1])).curve(d3.curveLinearClosed)
  ;[[pcaSham, BLUE], [pcaIR, RED]].forEach(([pts, color]) => {
    g.append("path").attr("d", line(d3.polygonHull(pts))).attr("fill", "none").attr("stroke", color).attr("stroke-width", 1.5).attr("stroke-dasharray", "5 4").attr("opacity", 0.8)
    g.selectAll(null).data(pts).join("circle").attr("cx", d => x(d[0])).attr("cy", d => y(d[1])).attr("r", 3.6).attr("fill", color)
  })
  frame(g, 591, 72, 815, 270)
  axis(g, "left", y, 591, [-100, -50, 0, 50, 100, 150], d3.format("d"))
  axis(g, "bottom", x, 270, [-100, 0, 100, 200], d3.format("d"))
  label(g, 694.6, 313, "PC1 (32.6%)", { anchor: "middle", fill: TICK })
  label(g, 522, 167, "PC2 (12.6%)", { anchor: "middle", rotate: -90, fill: TICK })
  ;[["Sham", BLUE, 157], ["I/R", RED, 180]].forEach(([s, color, yy]) => {
    g.append("circle").attr("cx", 825).attr("cy", yy).attr("r", 3.6).attr("fill", color)
    label(g, 831, yy, s)
  })
}

function panelC(g) {
  const x = d3.scaleLinear().domain([-5, 5]).range([986, 1267.7])
  const y = d3.scaleLinear().domain([0, 4]).range([294.3, 76.7])
  const area = d3.area().y(d => y(d[0])).x0(d => x(d[1])).x1(d => x(d[2]))
  ;[volcanoLeft, volcanoRight].forEach(v => g.append("path").attr("d", area(v)).attr("fill", "#808080"))
  const dots = (pts, color, r) => g.selectAll(null).data(pts).join("circle").attr("cx", d => x(d[0])).attr("cy", d => y(d[1])).attr("r", r).attr("fill", color)
  const fromRows = rows => rows.flatMap(([p, fcs]) => fcs.map(f => [f, p]))
  dots(volcanoGrey, "#808080", 2.2)
  dots(volcanoBlueTop.concat(fromRows(volcanoBlueRows)), BLUE, 3.3)
  dots(volcanoRedTop.concat(fromRows(volcanoRedRows)), RED, 3.3)
  const dash = { stroke: "#aaa", w: 2, d: "12 7" }
  ;[-1, 1].forEach(v => g.append("line").attr("x1", x(v)).attr("x2", x(v)).attr("y1", 53).attr("y2", 302).attr("stroke", dash.stroke).attr("stroke-width", dash.w).attr("stroke-dasharray", dash.d))
  g.append("line").attr("x1", 970).attr("x2", 1284).attr("y1", y(1.3)).attr("y2", y(1.3)).attr("stroke", dash.stroke).attr("stroke-width", dash.w).attr("stroke-dasharray", dash.d)
  frame(g, 970, 53, 1284, 302)
  axis(g, "left", y, 970, [0, 1, 2, 3, 4], d3.format("d"))
  axis(g, "bottom", x, 302, [-5, -2.5, 0, 2.5, 5], d3.format(".1f"))
  label(g, 976, 295, "Down: 157", { size: 11.5, font: SERIF, fill: "#3a78f0" })
  label(g, 1278, 295, "Up: 173", { size: 11.5, font: SERIF, fill: "#f05050", anchor: "end" })
  richLabel(g, 1118, 351.7, ["Log", { low: "2" }, " (fold-change)"], { fill: TICK })
  richLabel(g, 926.7, 173, logTitle, { rotate: -90, fill: TICK })
  g.append("circle").attr("cx", 1047.7).attr("cy", 34).attr("r", 3.4).attr("fill", RED)
  label(g, 1056.7, 36, "Up")
  g.append("circle").attr("cx", 1102.7).attr("cy", 34).attr("r", 3.4).attr("fill", "#808080")
  label(g, 1130, 20.7, "Not", { anchor: "middle" })
  label(g, 1126, 41.7, "sig", { anchor: "middle" })
  g.append("circle").attr("cx", 1168.7).attr("cy", 34).attr("r", 3.4).attr("fill", BLUE)
  label(g, 1181.7, 34, "Down")
}

function panelD(svg, g) {
  const cols = d3.range(12)
  const x = d3.scaleBand().domain(cols).range([1426, 1868])
  const y = d3.scaleBand().domain(heatGenes).range([142.8, 925.6])
  heatGenes.forEach((name, r) => {
    cols.forEach(c => {
      g.append("rect").attr("x", x(c)).attr("y", y(name)).attr("width", x.bandwidth() + 0.4).attr("height", y.bandwidth() + 0.4).attr("fill", heatColor(heatValues[r][c]))
    })
    label(g, 1874, y(name) + y.bandwidth() / 2, name, { size: 11.5, font: SERIF })
  })
  g.append("rect").attr("x", x(0)).attr("y", 123.6).attr("width", x.bandwidth() * 6).attr("height", 13.7).attr("fill", "#3fb5cf")
  g.append("rect").attr("x", x(6)).attr("y", 123.6).attr("width", x.bandwidth() * 6).attr("height", 13.7).attr("fill", "#e04a3a")
  label(g, 1874, 130.5, "group", { size: 11.5, font: SERIF })

  const root = d3.hierarchy([dendroUp, dendroDown], d => Array.isArray(d) ? d : null)
  const top = d3.max(root.children, d => d.height)
  const hx = d3.scaleLinear().domain([1, top]).range([1418, 1409])
  const nodeX = n => n.parent === null ? 1384 : n.height === 0 ? 1425 : hx(n.height)
  root.eachAfter(n => {
    n.py = n.children ? d3.mean(n.children, c => c.py) : y(heatGenes[n.data]) + y.bandwidth() / 2
  })
  const path = d3.path()
  root.each(n => {
    if (!n.children) return
    const px = nodeX(n)
    const [a, b] = n.children
    path.moveTo(nodeX(a), a.py); path.lineTo(px, a.py); path.lineTo(px, b.py); path.lineTo(nodeX(b), b.py)
  })
  g.append("path").attr("d", path.toString()).attr("fill", "none").attr("stroke", "#333").attr("stroke-width", 1.2)

  label(g, 1974, 445.6, "group", { size: 10.5, font: SERIF })
  g.append("rect").attr("x", 1974).attr("y", 460).attr("width", 17).attr("height", 17).attr("fill", "#3fb5cf")
  g.append("rect").attr("x", 1974).attr("y", 480).attr("width", 17).attr("height", 17).attr("fill", "#e04a3a")
  label(g, 1997, 468.5, "Sham", { size: 9.5, font: SERIF })
  label(g, 1997, 488.5, "I/R", { size: 9.5, font: SERIF })
  colorBar(svg, g, "heatbar", heatColor, [-2, 2], 1972, 517, 19, 112, 1)
  const by = d3.scaleLinear().domain([-2, 2]).range([624, 522])
  ;[-2, -1, 0, 1, 2].forEach(v => label(g, 1996, by(v), d3.format("d")(v), { size: 9.5, font: SERIF }))
}

function panelE(svg, g) {
  const x = d3.scaleLinear().domain([0, 12]).range([346, 468.6])
  const facetTop = [433, 548.4, 663, 778]
  const facetH = 108.5
  barFacets.forEach((f, i) => {
    const y0 = facetTop[i]
    const y = d3.scaleBand().domain(f.rows.map(r => r[0])).range([y0, y0 + facetH]).paddingInner(0.19).paddingOuter(0.195)
    g.append("rect").attr("x", 469).attr("y", y0).attr("width", 24.5).attr("height", facetH).attr("fill", "#d0d0d0").attr("stroke", "#555").attr("stroke-width", 1.5)
    label(g, 481, y0 + facetH / 2, f.name, { size: 10.5, font: SERIF, anchor: "middle", rotate: 90, fill: "#555" })
    f.rows.forEach(([t, lines]) => {
      const cy = y(t) + y.bandwidth() / 2
      g.append("rect").attr("x", x(0)).attr("y", y(t)).attr("width", x(termPadj[t]) - x(0)).attr("height", y.bandwidth())
        .attr("fill", zColor(termZ[t])).attr("stroke", "#443333").attr("stroke-width", 1.5)
      g.append("line").attr("x1", 340).attr("x2", 346).attr("y1", cy).attr("y2", cy).attr("stroke", "#555").attr("stroke-width", 1.5)
      lines.forEach((s, k) => label(g, lines.length > 1 ? 332 : 334, cy + (k - (lines.length - 1) / 2) * 15.7, s, { anchor: "end" }))
    })
    frame(g, 346, y0, 469, y0 + facetH, "#444")
  })
  axis(g, "bottom", x, 886.5, [0, 3, 6, 9, 12], d3.format("d"), 16)
  richLabel(g, 407, 924.5, logTitle, { size: 15.5, fill: TICK })
  label(g, 500, 615.6, "Z-score", { size: 16.5 })
  colorBar(svg, g, "zbar", zColor, [-3, 3], 500, 627.6, 17, 80)
  const by = d3.scaleLinear().domain([3, -3]).range([630, 706])
  ;[3, 2, 1, 0, -1, -2, -3].forEach(v => label(g, 523, by(v), d3.format("d")(v), { size: 16.5, fill: TICK }))
}

function panelF(g) {
  const y = d3.scaleLinear().domain([3, 9]).range([780.5, 587.7])
  const fromRows = rows => rows.flatMap(([p, zs]) => zs.map(z => [z, p]))
  const facets = [
    { name: "BP", box: [691, 845], x: d3.scaleLinear().domain([-2, 3]).range([705.5, 834]), ticks: [-2, -1, 0, 1, 2, 3], top: bubbleBpTop, dense: fromRows(bubbleBpRows), dark: [[2.54, 11.47]] },
    { name: "CC", box: [850, 966], x: d3.scaleLinear().domain([-2, 2]).range([855.6, 959]), ticks: [-2, -1, 0, 1, 2], top: bubbleCC, dense: [], dark: [] },
    { name: "MF", box: [972, 1101], x: d3.scaleLinear().domain([-2, 2]).range([975, 1078]), ticks: [-2, -1, 0, 1, 2], top: bubbleMF, dense: [], dark: [[2.1, 5.59]] },
    { name: "KEGG", box: [1107, 1230], x: d3.scaleLinear().domain([-1, 3]).range([1125, 1227.5]), ticks: [-1, 0, 1, 2, 3], top: bubbleKEGG, dense: [], dark: [[1.78, 5.49]] },
  ]
  facets.forEach((f, i) => {
    const [x0, x1] = f.box
    g.append("rect").attr("x", x0).attr("y", 470).attr("width", x1 - x0).attr("height", 21).attr("fill", "#d0d0d0").attr("stroke", "#555").attr("stroke-width", 1.5)
    label(g, (x0 + x1) / 2, 481, f.name, { size: 11, font: SERIF, anchor: "middle", fill: "#555" })
    g.selectAll(null).data(f.dense).join("circle").attr("cx", d => f.x(d[0])).attr("cy", d => y(d[1])).attr("r", 3.8).attr("fill", bubbleColors[i])
    g.selectAll(null).data(f.top).join("circle").attr("cx", d => f.x(d[0])).attr("cy", d => y(d[1])).attr("r", i === 0 ? 4.6 : 3.5).attr("fill", bubbleColors[i])
    g.selectAll(null).data(f.dark).join("circle").attr("cx", d => f.x(d[0])).attr("cy", d => y(d[1])).attr("r", 4).attr("fill", bubbleDark[i])
    frame(g, x0, 491, x1, 861.5, "#555")
    axis(g, "bottom", f.x, 861.5, f.ticks, d3.format("d"), 20)
  })
  bubbleLabels.forEach(([i, s, z, p]) => label(g, facets[i].x(z), y(p), s, { size: 11.7, font: SERIF, anchor: "middle", fill: "#444" }))
  axis(g, "left", y, 691, [3, 6, 9], d3.format("d"), 20)
  richLabel(g, 642, 678, logTitle, { rotate: -90, fill: TICK })
  label(g, 961, 906, "Z-score", { anchor: "middle", fill: TICK })
  label(g, 1233.5, 579, "Ontology", { size: 18.8 })
  const ly = d3.scalePoint().domain(["BP", "CC", "MF", "KEGG"]).range([599, 640])
  ly.domain().forEach((s, i) => {
    g.append("circle").attr("cx", 1242).attr("cy", ly(s)).attr("r", 4.5).attr("fill", bubbleColors[i])
    label(g, 1252, ly(s), s, { size: 19 })
  })
  label(g, 1233.5, 678, "Counts", { size: 18.8 })
  const sy = d3.scalePoint().domain(countValues).range([694.5, 749])
  const sr = d3.scaleSqrt().domain([5, 25]).range([2, 4])
  countValues.forEach(v => {
    g.append("circle").attr("cx", 1242).attr("cy", sy(v)).attr("r", sr(v)).attr("fill", "#999").attr("stroke", "#333").attr("stroke-width", 1.2)
    label(g, 1256, sy(v), String(v), { size: 19 })
  })
}

function panelG(svg, outer) {
  const g = outer.append("g").attr("transform", "translate(500,1376)")
  const pie = d3.pie().sort(null).startAngle(0).endAngle(rad(178.7)).padAngle(rad(0.45))
  const sectors = pie(termWeights)
  const geneBand = d3.scaleBand().domain(geneNames).range([rad(359.7), rad(180.3)]).paddingInner(0.2).paddingOuter(0.1)
  const w = geneBand.bandwidth()
  const arc = d3.arc().innerRadius(269).outerRadius(285)
  const ribbon = d3.ribbon()

  termNames.forEach((_, t) => {
    const sec = sectors[t]
    const genes = geneNames.map((_, i) => i).filter(i => geneTerms[i].includes(t))
    const unit = (sec.endAngle - sec.startAngle) / genes.length
    genes.forEach((gi, k) => {
      const ts = geneTerms[gi]
      const n = ts.length
      const pos = ts.indexOf(t)
      const a0 = geneBand(geneNames[gi])
      const sw = n <= 2 ? w / n : Math.min(w, (w / n) * 1.3)
      const step = n <= 2 ? sw : (w - sw) / (n - 1)
      const hi = a0 + w - pos * step
      g.append("path")
        .attr("d", ribbon({
          source: { startAngle: sec.startAngle + k * unit, endAngle: sec.startAngle + (k + 1) * unit, radius: 268 },
          target: { startAngle: hi - sw, endAngle: hi, radius: 266 },
        }))
        .attr("fill", termColors[t]).attr("fill-opacity", t === 9 && n >= 3 ? 0.35 : 0.5)
    })
  })
  sectors.forEach((sec, t) => {
    g.append("path").attr("d", arc(sec)).attr("fill", termColors[t]).attr("stroke", t === 10 ? "#777" : "none")
  })
  const labelLines = { 5: ["extracellular membrane−bounded", "organelle"], 8: ["G protein−coupled receptor", "binding"] }
  termNames.forEach((s, t) => {
    const mid = (sectors[t].startAngle + sectors[t].endAngle) / 2 * 180 / Math.PI
    const lines = labelLines[t] || [s]
    lines.forEach((line, k) => {
      g.append("text")
        .attr("transform", `rotate(${mid - 90}) translate(${292 + (k ? 3 : 0)},${k * 14})`)
        .attr("dy", "0.35em").attr("font-family", SERIF).attr("font-size", 11.7).attr("fill", "#444").text(line)
    })
  })
  geneNames.forEach((name, i) => {
    const a0 = geneBand(name)
    g.append("path").attr("d", d3.arc().innerRadius(271).outerRadius(285)({ startAngle: a0, endAngle: a0 + w })).attr("fill", fcColor(geneFc[i]))
    const mid = (a0 + w / 2) * 180 / Math.PI
    g.append("text")
      .attr("transform", `rotate(${mid - 90}) translate(290,0) rotate(180)`)
      .attr("dy", "0.35em").attr("text-anchor", "end").attr("font-family", SERIF).attr("font-size", 11.5).attr("fill", "#444").text(name)
  })
  label(outer, 853, 1020, "logFC", { size: 18, font: SERIF })
  colorBar(svg, outer, "fcbar", fcColor, [-5, 5], 852, 1033, 26, 128, 5)
  const by = d3.scaleLinear().domain([5, -5]).range([1033, 1161])
  ;[5, 2.5, 0, -2.5, -5].forEach(v => label(outer, 889, by(v), d3.format(".1f")(v), { size: 17, font: SERIF }))
}

function panelH(svg, outer) {
  const g = outer.append("g").attr("transform", "translate(1486.7,1379.4)")
  const span = 23.5
  const fcR = d3.scaleLinear().domain([-2.85, 4.7]).range([170, 268])
  const barR = d3.scaleLinear().domain([0, 11.43]).range([74, 156])
  const rings = [-0.95, 0.95, 2.8]
  circleOrder.forEach((t, i) => {
    const a0 = 30 * i
    const arc = d3.arc().startAngle(rad(a0)).endAngle(rad(a0 + span))
    g.append("path").attr("d", arc({ innerRadius: 170, outerRadius: 268 })).attr("fill", "#d9d9d9")
    rings.forEach(v => g.append("path").attr("d", arc({ innerRadius: fcR(v) - 0.8, outerRadius: fcR(v) + 0.8 })).attr("fill", "#f4f4f4"))
    g.append("path").attr("d", arc({ innerRadius: 66, outerRadius: barR(termPadj[t]) }))
      .attr("fill", zColor(termZ[t])).attr("stroke", "#5a4a4a").attr("stroke-width", 1.6)
    const dots = (pts, color) => g.selectAll(null).data(pts).join("circle")
      .attr("cx", d => fcR(d[1]) * Math.sin(rad(a0 + d[0])))
      .attr("cy", d => -fcR(d[1]) * Math.cos(rad(a0 + d[0])))
      .attr("r", 3).attr("fill", color)
    dots(circleUp[i], "#1560f0")
    dots(circleDown[i], "#f02020")

    const mid = a0 + span / 2
    const flip = mid > 90 && mid < 270
    circleLines[i].forEach((line, k) => {
      const r = flip ? (circleLines[i].length > 1 ? 285 + k * 14 : 288) : (circleLines[i].length > 1 ? 286 - k * 14 : 284)
      const p = d3.path()
      if (flip) p.arc(0, 0, r, rad(mid - 90 + 85), rad(mid - 90 - 85), true)
      else p.arc(0, 0, r, rad(mid - 90 - 85), rad(mid - 90 + 85), false)
      const id = `hlabel-${i}-${k}`
      svg.select("defs").append("path").attr("id", id).attr("d", p.toString())
      g.append("text").attr("font-family", SERIF).attr("font-size", 12).attr("fill", "#444").attr("text-anchor", "middle")
        .append("textPath").attr("href", `#${id}`).attr("startOffset", "50%").text(line)
    })
  })
  label(outer, 1826, 1248, "Z−score", { size: 18, font: SERIF })
  colorBar(svg, outer, "hbar", zColor, [-3, 3], 1826, 1261, 21, 112, 2)
  const by = d3.scaleLinear().domain([3, -3]).range([1263, 1370])
  ;[3, 2, 1, 0, -1, -2, -3].forEach(v => label(outer, 1859, by(v), d3.format("d")(v), { size: 17, font: SERIF, anchor: "start" }))
  const t = label(outer, 1826, 1395, "", { size: 18, font: SERIF })
  t.append("tspan").text("Log")
  t.append("tspan").text("2").attr("font-size", 11).attr("dy", 4)
  t.append("tspan").text(" FC").attr("dy", -4)
  ;[["Up", "#14206a", 1424], ["Down", "#6a1020", 1446]].forEach(([s, c, yy]) => {
    outer.append("circle").attr("cx", 1836).attr("cy", yy).attr("r", 4).attr("fill", c)
    label(outer, 1857, yy, s, { size: 17, font: SERIF })
  })
}

function regression(points) {
  const n = points.length
  const mx = d3.mean(points, d => d[0])
  const my = d3.mean(points, d => d[1])
  const sxx = d3.sum(points, d => (d[0] - mx) ** 2)
  const b = d3.sum(points, d => (d[0] - mx) * (d[1] - my)) / sxx
  const a = my - b * mx
  const s = Math.sqrt(d3.sum(points, d => (d[1] - a - b * d[0]) ** 2) / (n - 2))
  const t = 2.228
  const [lo, hi] = d3.extent(points, d => d[0])
  const xs = d3.range(0, 41).map(i => lo + (hi - lo) * i / 40)
  return xs.map(x => {
    const fit = a + b * x
    const half = t * s * Math.sqrt(1 / n + (x - mx) ** 2 / sxx)
    return { x, fit, lo: fit - half, hi: fit + half }
  })
}

function scatter(g, panel, layout) {
  const { box, x, y, xTicks, yTicks, xFmt, yFmt, xTitle, yTitle, stats } = layout
  const [x0, y0, x1, y1] = box
  const fit = regression(panel.points)
  g.append("path").attr("d", d3.area().x(d => x(d.x)).y0(d => y(d.lo)).y1(d => y(d.hi))(fit)).attr("fill", "#ececec")
  g.append("path").attr("d", d3.line().x(d => x(d.x)).y(d => y(d.fit))(fit)).attr("fill", "none").attr("stroke", "#3a6fdc").attr("stroke-width", 2.5)
  g.selectAll(null).data(panel.points).join("circle").attr("cx", d => x(d[0])).attr("cy", d => y(d[1])).attr("r", 5).attr("fill", BLUE)
  frame(g, x0, y0, x1, y1, "#444")
  axis(g, "bottom", x, y1, xTicks, xFmt, layout.tickSize || 21)
  axis(g, "left", y, x0, yTicks, yFmt, layout.tickSize || 21)
  label(g, xTitle[0], xTitle[1], `Expression of ${panel.xName}`, { anchor: "middle", fill: TICK })
  label(g, yTitle[0], yTitle[1], `Expression of ${panel.yName}`, { anchor: "middle", rotate: -90, fill: TICK, size: layout.yTitleSize || 20.5 })
  label(g, stats[0] - 8, stats[1], "Spearman", { size: 14.5, font: SERIF, anchor: "end", fill: "#444" })
  label(g, stats[0], stats[1] + 18, panel.r, { size: 14.5, font: SERIF, anchor: "end", fill: "#444", style: "italic" })
  label(g, stats[0], stats[1] + 37, panel.p, { size: 14.5, font: SERIF, anchor: "end", fill: "#444", style: "italic" })
}

function panelsIL(g) {
  scatter(g, scatterPanels[0], {
    box: [148, 1829, 440.6, 2139],
    x: d3.scaleLinear().domain([-0.8, 0]).range([168, 405.5]),
    y: d3.scaleLinear().domain([-1, 2]).range([2077, 1861.7]),
    xTicks: [-0.8, -0.6, -0.4, -0.2, 0], yTicks: [-1, 0, 1, 2], xFmt: d3.format(".1f"), yFmt: d3.format("d"),
    xTitle: [293, 2194], yTitle: [97.6, 1987], stats: [428, 2085],
  })
  scatter(g, scatterPanels[1], {
    box: [631, 1825, 912.7, 2135],
    x: d3.scaleLinear().domain([-0.8, 0]).range([651, 878]),
    y: d3.scaleLinear().domain([-1.5, -0.5]).range([2085.7, 1910.7]),
    xTicks: [-0.8, -0.6, -0.4, -0.2, 0], yTicks: [-1.5, -1, -0.5], xFmt: d3.format(".1f"), yFmt: d3.format(".1f"),
    xTitle: [773, 2187], yTitle: [553, 1986], stats: [899, 2082],
  })
  scatter(g, scatterPanels[2], {
    box: [1124, 1815, 1397.6, 2126],
    x: d3.scaleLinear().domain([-1, 1]).range([1172.5, 1371.7]),
    y: d3.scaleLinear().domain([-1, -0.25]).range([2110, 1881.7]),
    xTicks: [-1, -0.5, 0, 0.5, 1], yTicks: [-1, -0.75, -0.5, -0.25], xFmt: d3.format(".1f"), yFmt: d3.format(".2f"),
    xTitle: [1260, 2180], yTitle: [1027, 1970], stats: [1385, 2072],
  })
  const ly = d3.scaleLinear().domain([-0.5, 0]).range([2088, 1925.7])
  scatter(g, scatterPanels[3], {
    box: [1576.7, 1815, 1858, 2126],
    x: d3.scaleLinear().domain([-0.6, -0.2]).range([1611, 1783]),
    y: ly,
    xTicks: [-0.6, -0.4, -0.2], yTicks: [-0.5, 0], xFmt: d3.format(".1f"), yFmt: d3.format(".1f"),
    xTitle: [1713, 2181], yTitle: [1496, 1978], stats: [1845, 2072], tickSize: 22, yTitleSize: 23,
  })
  axis(g, "left", ly, 1576.7, [-0.35], () => "")
}

export default function App() {
  const ref = useRef(null)
  useEffect(() => {
    const svg = d3.select(ref.current)
    svg.selectAll("*").remove()
    svg.append("defs")
    const g = svg.append("g")
    panelA(g)
    panelB(g)
    panelC(g)
    panelD(svg, g)
    panelE(svg, g)
    panelF(g)
    panelG(svg, g)
    panelH(svg, g)
    panelsIL(g)
    panelLetters(g)
  }, [])
  return <svg ref={ref} width={2032} height={2218} viewBox="0 0 2032 2218" style={{ position: "absolute", left: 0, top: 0, background: "#fff" }} />
}
